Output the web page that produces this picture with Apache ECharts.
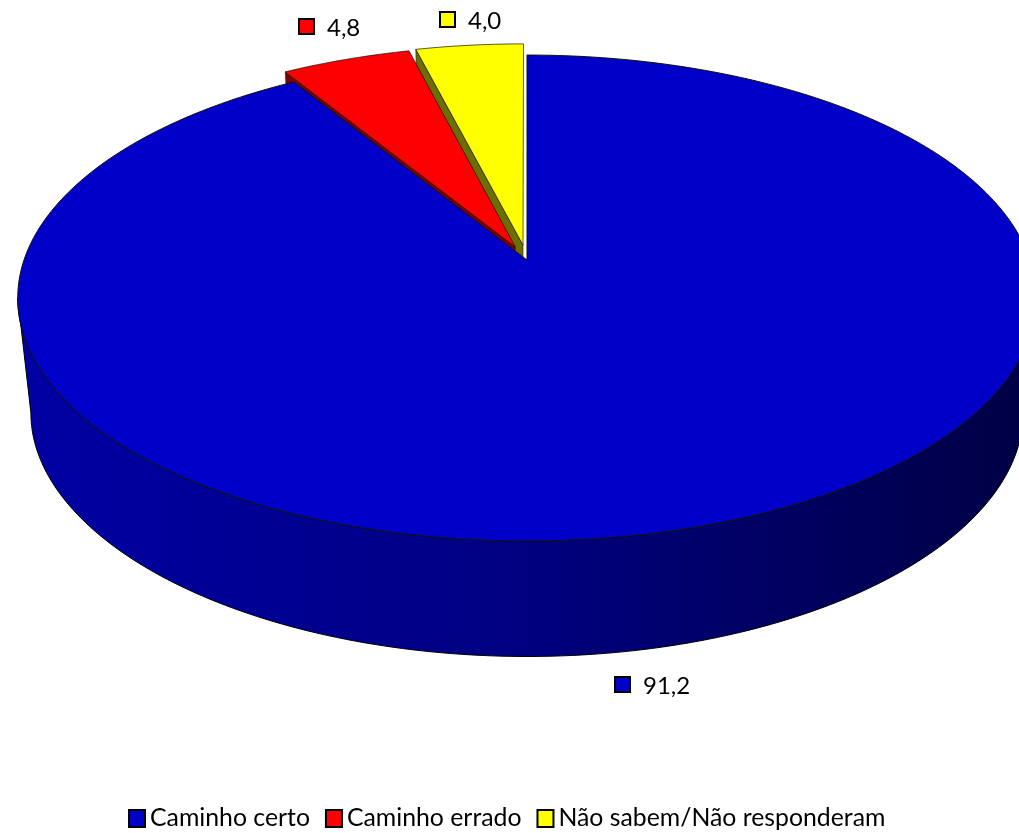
<!DOCTYPE html>
<html>
<head>
<meta charset="utf-8">
<title>Caminho certo</title>
<script src="https://cdn.jsdelivr.net/npm/echarts@6/dist/echarts.min.js"></script>
<style>
  html, body { margin: 0; padding: 0; background: #fff; }
  #chart { width: 1019px; height: 833px; }
</style>
</head>
<body>
<div id="chart"></div>
<script>
const categories = ['Caminho certo', 'Caminho errado', 'Não sabem/Não responderam']
const values = [91.2, 4.8, 4.0]

// cores: topo, lateral
const topColors = ['#0000c8', '#ff0000', '#ffff00']
const sideColors = ['#000080', '#7a0000', '#6e6e00']
// fatias destacadas
const explode = [0, 0.06, 0.064]
// posicao da legenda de cada valor (quadrado)
const labelPos = [[615, 677], [299, 19], [440, 12]]

// perspectiva do disco
const CX = 527
const CY = 260
const RX = 503
const RY = 237
const PERSP = 0.1563
// disco de baixo
const BOTTOM_CY = 376
const BOTTOM_RX = 490
const BOTTOM_RY = 230
const BOTTOM_PERSP = 0.18
const FONT = 'Lato'

const total = values.reduce((a, b) => a + b, 0)

function project(deg, dist, midDeg, off, bottom) {
  const a = (deg * Math.PI) / 180
  const m = (midDeg * Math.PI) / 180
  const wx = dist * Math.sin(a) + off * Math.sin(m)
  const wy = -dist * Math.cos(a) - off * Math.cos(m)
  const w = 1 - PERSP * wy
  if (bottom) {
    return [CX + (BOTTOM_RX * wx) / w, BOTTOM_CY + (BOTTOM_RY * wy) / (1 - BOTTOM_PERSP * wy)]
  }
  return [CX + (RX * wx) / w, CY + (RY * wy) / w]
}

function arcPoints(from, to, midDeg, off, bottom) {
  const pts = []
  const steps = Math.max(2, Math.ceil(Math.abs(to - from)))
  for (let i = 0; i <= steps; i++) {
    pts.push(project(from + ((to - from) * i) / steps, 1, midDeg, off, bottom))
  }
  return pts
}

function renderSlice(idx, api) {
  const value = api.value(0)
  const before = values.slice(0, idx).reduce((a, b) => a + b, 0)
  const start = (before / total) * 360
  const end = ((before + value) / total) * 360
  const mid = (start + end) / 2
  const off = explode[idx]
  const children = []

  if (idx === 0) {
    // parede frontal do disco
    const tangent = (Math.acos(-PERSP) * 180) / Math.PI
    const wall = arcPoints(tangent, 360 - tangent, mid, 0, false)
      .concat(arcPoints(360 - tangent, tangent, mid, 0, true))
    children.push({
      type: 'polygon',
      shape: { points: wall },
      style: {
        fill: new echarts.graphic.LinearGradient(18, 0, 1032, 0, [
          { offset: 0, color: '#0000a4' },
          { offset: 0.5, color: '#000080' },
          { offset: 1, color: '#000044' }
        ], true),
        stroke: '#000',
        lineWidth: 1
      }
    })
  } else {
    // lateral da fatia, a parte de baixo fica escondida pelo disco
    const apexTop = project(0, 0, mid, off, false)
    const apexBottom = project(0, 0, mid, off, true)
    children.push({
      type: 'polygon',
      shape: {
        points: [apexTop, project(start, 1, mid, off, false), project(start, 1, mid, off, true), apexBottom]
      },
      style: { fill: sideColors[idx], stroke: '#222', lineWidth: 0.6 }
    })
  }

  const top = [project(0, 0, mid, off, false)].concat(arcPoints(start, end, mid, off, false))
  children.push({
    type: 'polygon',
    shape: { points: top },
    style: { fill: topColors[idx], stroke: '#111', lineWidth: idx === 0 ? 1 : 0.7 }
  })

  // valor com o quadrado da legenda
  const pos = labelPos[idx]
  children.push({
    type: 'rect',
    shape: { x: pos[0], y: pos[1], width: 15, height: 15 },
    style: { fill: topColors[idx], stroke: '#000', lineWidth: 2 }
  })
  children.push({
    type: 'text',
    style: {
      x: pos[0] + 28,
      y: pos[1] + 9,
      text: value.toFixed(1).replace('.', ','),
      font: '24px ' + FONT,
      fill: '#000',
      verticalAlign: 'middle'
    }
  })

  return { type: 'group', children }
}

const chart = echarts.init(document.getElementById('chart'), null, { renderer: 'canvas' })

chart.setOption({
  backgroundColor: '#fff',
  animation: false,
  legend: {
    data: categories,
    left: 128,
    top: 806,
    padding: 0,
    icon: 'rect',
    itemWidth: 16,
    itemHeight: 17,
    itemGap: 15,
    itemStyle: { borderColor: '#000', borderWidth: 2 },
    textStyle: { fontFamily: FONT, fontSize: 24.8, color: '#000' },
    selectedMode: false
  },
  series: categories.map((name, idx) => ({
    type: 'custom',
    name,
    coordinateSystem: 'none',
    silent: true,
    z: 3 - idx,
    itemStyle: { color: topColors[idx] },
    data: [[values[idx]]],
    renderItem: (params, api) => renderSlice(idx, api)
  }))
})
</script>
</body>
</html>
